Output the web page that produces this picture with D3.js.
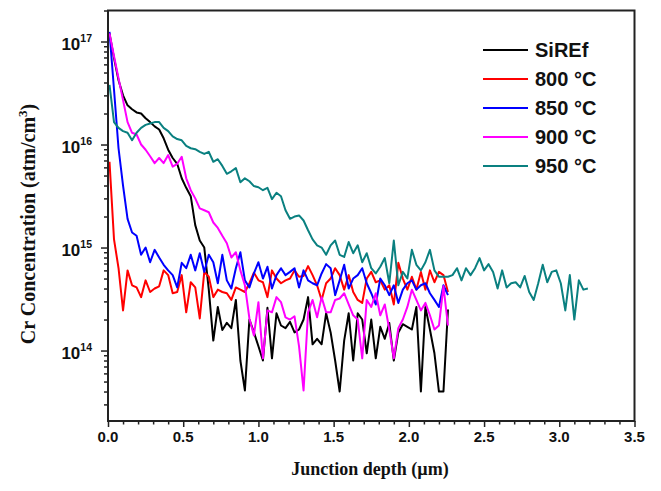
<!DOCTYPE html>
<html>
<head>
<meta charset="utf-8">
<script src="https://cdn.jsdelivr.net/npm/d3@7"></script>
<style>
  body { margin: 0; background: #fff; }
</style>
</head>
<body>
<div id="chart"></div>
<script>
// depth grid (µm), shared by all profiles
const depth = [
  0.01,0.04,0.07,0.10,0.13,0.16,0.19,0.22,0.25,0.28,
  0.31,0.34,0.37,0.40,0.43,0.46,0.49,0.52,0.55,0.58,
  0.61,0.64,0.67,0.70,0.73,0.76,0.79,0.82,0.85,0.88,
  0.91,0.94,0.97,1.00,1.03,1.06,1.09,1.12,1.15,1.18,
  1.21,1.24,1.27,1.30,1.33,1.36,1.39,1.42,1.45,1.48,
  1.51,1.54,1.57,1.60,1.63,1.66,1.69,1.72,1.75,1.78,
  1.81,1.84,1.87,1.90,1.93,1.96,1.99,2.02,2.05,2.08,
  2.11,2.14,2.17,2.20,2.23,2.26,2.29,2.32,2.35,2.38,
  2.41,2.44,2.47,2.50,2.53,2.56,2.59,2.62,2.65,2.68,
  2.71,2.74,2.77,2.80,2.83,2.86,2.89,2.92,2.95,2.98,
  3.01,3.04,3.07,3.10,3.13,3.16,3.19
];

// Cr concentration (atm/cm3)
const siref = [
  1.2e17,6.9e16,4.2e16,3.0e16,2.4e16,2.2e16,2.05e16,2.0e16,1.8e16,1.65e16,
  1.5e16,1.4e16,1.15e16,8.9e15,7.4e15,6.5e15,4.7e15,3.8e15,3.15e15,1.65e15,
  1.17e15,1.0e15,3.9e14,1.25e14,2.65e14,1.58e14,1.86e14,1.65e14,3.1e14,8.0e13,
  4.1e13,2.0e14,1.5e14,1.1e14,8.0e13,2.6e14,8.4e13,2.3e14,1.75e14,1.65e14,
  1.9e14,1.5e14,1.6e14,2.0e14,3.3e14,1.15e14,1.3e14,1.15e14,2.3e14,1.5e14,
  8.0e13,4.0e13,1.25e14,2.3e14,8.0e13,2.3e14,2.0e14,9.4e13,2.0e14,8.4e13,
  1.7e14,1.3e14,1.85e14,8.0e13,1.5e14,1.8e14,1.7e14,1.6e14,2.65e14,4.0e13,
  2.65e14,1.6e14,9.4e13,4.0e13,4.0e13,2.5e14
];
const c800 = [
  6.8e15,1.2e15,6.3e14,2.45e14,6.0e14,4.3e14,4.1e14,3.3e14,4.8e14,3.7e14,
  4.0e14,4.2e14,6.0e14,5.4e14,3.6e14,3.7e14,5.4e14,2.35e14,4.6e14,4.1e14,
  2.05e14,5.8e14,5.2e14,3.3e14,3.9e14,3.7e14,3.6e14,3.1e14,4.1e14,3.9e14,
  3.7e14,4.5e14,5.7e14,4.8e14,4.6e14,3.3e14,6.0e14,5.0e14,4.5e14,4.8e14,
  5.0e14,6.0e14,5.2e14,5.3e14,6.6e14,5.4e14,4.3e14,3.1e14,4.5e14,5.0e14,
  6.3e14,5.4e14,3.9e14,5.4e14,3.7e14,3.1e14,2.9e14,5.0e14,5.8e14,4.6e14,
  4.8e14,3.9e14,4.3e14,2.8e14,7.1e14,5.0e14,3.9e14,5.2e14,3.9e14,5.8e14,
  3.9e14,6.0e14,4.6e14,5.8e14,5.4e14,3.7e14
];
const c850 = [
  1.24e17,3.4e16,9.2e15,4.0e15,1.9e15,1.4e15,1.3e15,8.5e14,1.0e15,7.2e14,
  9.5e14,8.0e14,6.8e14,6.0e14,5.4e14,4.1e14,7.1e14,6.3e14,8.5e14,6.0e14,
  8.8e14,5.8e14,8.5e14,7.2e14,4.5e14,8.5e14,4.8e14,4.0e14,6.3e14,9.0e14,
  4.8e14,4.1e14,5.6e14,7.2e14,5.0e14,6.5e14,4.0e14,5.4e14,6.3e14,5.4e14,
  5.8e14,6.3e14,4.1e14,6.0e14,4.8e14,4.5e14,4.3e14,5.6e14,6.9e14,6.3e14,
  3.45e14,4.8e14,6.8e14,4.0e14,5.0e14,5.4e14,6.3e14,4.5e14,3.6e14,2.8e14,
  5.0e14,4.3e14,3.45e14,4.3e14,2.9e14,3.9e14,4.5e14,4.8e14,3.9e14,4.3e14,
  4.5e14,3.6e14,3.1e14,2.65e14,4.3e14,3.45e14
];
const c900 = [
  1.2e17,7.2e16,4.4e16,2.7e16,1.65e16,1.3e16,1.25e16,1.0e16,8.9e15,7.7e15,
  6.6e15,7.4e15,6.6e15,7.9e15,6.1e15,6.5e15,7.6e15,4.7e15,3.6e15,3.0e15,
  2.4e15,2.3e15,2.2e15,1.75e15,1.55e15,1.3e15,1.1e15,8.0e14,9.0e14,6.0e14,
  4.3e14,2.05e14,1.4e14,2.95e14,8.4e13,2.45e14,2.35e14,3.3e14,2.95e14,2.1e14,
  2.0e14,2.15e14,1.1e14,4.1e13,2.35e14,3.1e14,2.1e14,3.3e14,2.35e14,2.35e14,
  3.1e14,3.2e14,3.6e14,2.8e14,2.2e14,2.0e14,8.4e13,3.1e14,2.65e14,3.6e14,
  2.2e14,2.8e14,1.6e14,8.4e13,1.65e14,2.0e14,2.65e14,3.9e14,3.1e14,2.45e14,
  2.9e14,2.2e14,1.6e14,1.75e14,4.2e14,1.75e14
];
const c950 = [
  3.8e16,1.65e16,1.45e16,1.35e16,1.3e16,1.1e16,1.3e16,1.45e16,1.55e16,1.6e16,
  1.65e16,1.65e16,1.45e16,1.35e16,1.2e16,1.13e16,1.1e16,9.7e15,9.2e15,9.0e15,
  8.5e15,8.1e15,8.5e15,6.8e15,7.2e15,6.2e15,5.2e15,5.5e15,5.9e15,4.3e15,
  4.7e15,4.4e15,3.95e15,3.85e15,3.6e15,3.8e15,2.95e15,3.4e15,3.15e15,2.3e15,
  1.9e15,2.0e15,2.05e15,1.83e15,1.47e15,1.2e15,1.05e15,1.0e15,8.5e14,1.05e15,
  1.17e15,8.5e14,8.1e14,1.13e15,8.8e14,1.05e15,7.2e14,8.8e14,6.3e14,5.6e14,
  6.5e14,7.9e14,4.5e14,1.17e15,4.3e14,5.8e14,5.0e14,9.5e14,6.8e14,6.0e14,
  7.2e14,9.5e14,6.0e14,5.2e14,5.2e14,5.2e14,5.4e14,6.3e14,4.8e14,6.3e14,
  5.4e14,6.3e14,7.9e14,6.0e14,6.9e14,5.8e14,4.0e14,6.0e14,4.1e14,4.5e14,
  4.6e14,4.1e14,5.3e14,3.7e14,3.1e14,4.5e14,6.8e14,4.6e14,5.8e14,6.0e14,
  4.5e14,2.45e14,5.4e14,2.0e14,4.8e14,3.9e14,4.0e14
];

const seriesNames = ["SiREf", "800 °C", "850 °C", "900 °C", "950 °C"];
const seriesColors = ["#000000", "#ff0000", "#0000ff", "#ff00ff", "#0a8080"];
const seriesValues = [siref, c800, c850, c900, c950];

const xMajor = [0, 0.5, 1.0, 1.5, 2.0, 2.5, 3.0, 3.5];
const xMinor = [0.1,0.2,0.3,0.4,0.6,0.7,0.8,0.9,1.1,1.2,1.3,1.4,1.6,1.7,1.8,1.9,
                2.1,2.2,2.3,2.4,2.6,2.7,2.8,2.9,3.1,3.2,3.3,3.4];
const yMajor = [1e14, 1e15, 1e16, 1e17];
const yExponents = ["14", "15", "16", "17"];

const width = 661, height = 491;
const margin = {top: 10.5, right: 26.5, bottom: 70, left: 108};
const w = width - margin.left - margin.right,
      h = height - margin.top - margin.bottom;

const svg = d3.select("#chart")
  .append("svg")
  .attr("width", width)
  .attr("height", height)
  .style("font-family", "'Liberation Sans', Arial, sans-serif");

const g = svg.append("g")
  .attr("transform", `translate(${margin.left},${margin.top})`);

const x = d3.scaleLinear().domain([0, 3.5]).range([0, w]);
const y = d3.scaleLog().domain([2.07e13, 2e17]).range([h, 0]);

// minor log ticks: 2..9 of each decade inside the domain
const yMinor = [];
[13, 14, 15, 16, 17].forEach(e => {
  for (let m = 2; m <= 9; m++) {
    const v = m * Math.pow(10, e);
    if (v >= y.domain()[0] && v <= y.domain()[1]) yMinor.push(v);
  }
});

g.append("defs").append("clipPath").attr("id", "clip")
  .append("rect").attr("width", w).attr("height", h);

// lines
const line = d3.line()
  .x(d => x(d[0]))
  .y(d => y(d[1]));

const plot = g.append("g").attr("clip-path", "url(#clip)");
seriesValues.forEach((vals, i) => {
  const pts = vals.map((v, k) => [depth[k], v]);
  plot.append("path")
    .datum(pts)
    .attr("fill", "none")
    .attr("stroke", seriesColors[i])
    .attr("stroke-width", 2)
    .attr("stroke-linejoin", "round")
    .attr("d", line);
});

// axes
const axisColor = "#222";
const xAxis = g.append("g").attr("transform", `translate(0,${h})`)
  .call(d3.axisBottom(x).tickValues(xMajor).tickSize(6).tickFormat(""));
const xAxisMinor = g.append("g").attr("transform", `translate(0,${h})`)
  .call(d3.axisBottom(x).tickValues(xMinor).tickSize(3.5).tickFormat(""));
const yAxis = g.append("g")
  .call(d3.axisLeft(y).tickValues(yMajor).tickSize(7).tickFormat(""));
const yAxisMinor = g.append("g")
  .call(d3.axisLeft(y).tickValues(yMinor).tickSize(4).tickFormat(""));

[xAxis, xAxisMinor, yAxis, yAxisMinor].forEach(a => {
  a.select(".domain").remove();
  a.selectAll(".tick line").attr("stroke", axisColor).attr("stroke-width", 1.5);
});

// frame
g.append("rect")
  .attr("width", w).attr("height", h)
  .attr("fill", "none")
  .attr("stroke", axisColor)
  .attr("stroke-width", 2);

// x tick labels
g.selectAll(".xlab")
  .data(xMajor)
  .join("text")
  .attr("x", d => x(d))
  .attr("y", h + 21)
  .attr("text-anchor", "middle")
  .style("font-size", "15px")
  .style("font-weight", "bold")
  .style("fill", "#111")
  .text(d => d.toFixed(1));

// y tick labels 10^n
yMajor.forEach((v, i) => {
  const t = g.append("text")
    .attr("x", -16)
    .attr("y", y(v) + 8.5)
    .attr("text-anchor", "end")
    .style("font-weight", "bold")
    .style("fill", "#111");
  t.append("tspan").style("font-size", "17px").text("10");
  t.append("tspan").attr("dy", -8).style("font-size", "10.5px").text(yExponents[i]);
});

// axis titles
svg.append("text")
  .attr("x", 370)
  .attr("y", 475)
  .attr("text-anchor", "middle")
  .style("font-family", "'Liberation Serif', 'Times New Roman', serif")
  .style("font-size", "18px")
  .style("font-weight", "bold")
  .style("fill", "#111")
  .text("Junction depth (µm)");

const yt = svg.append("text")
  .attr("transform", "translate(35,224) rotate(-90)")
  .attr("text-anchor", "middle")
  .style("font-family", "'Liberation Serif', 'Times New Roman', serif")
  .style("font-size", "20px")
  .style("font-weight", "bold")
  .style("fill", "#111");
yt.append("tspan").text("Cr Concentration (atm/cm");
yt.append("tspan").attr("dy", -8).style("font-size", "13px").text("3");
yt.append("tspan").attr("dy", 8).text(")");

// legend
const legend = svg.append("g");
seriesNames.forEach((name, i) => {
  const ly = 50 + i * 29;
  legend.append("line")
    .attr("x1", 483).attr("x2", 528)
    .attr("y1", ly).attr("y2", ly)
    .attr("stroke", seriesColors[i])
    .attr("stroke-width", 2);
  legend.append("text")
    .attr("x", 535)
    .attr("y", ly + 7)
    .style("font-size", "20px")
    .style("font-weight", "bold")
    .style("fill", "#111")
    .text(name);
});
</script>
</body>
</html>
